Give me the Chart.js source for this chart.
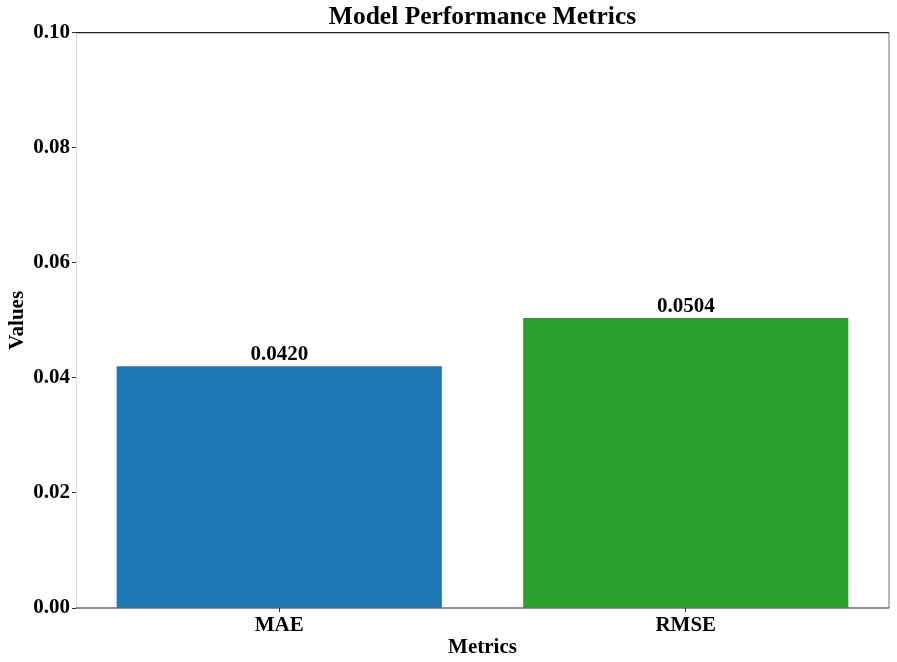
<!DOCTYPE html>
<html>
<head>
<meta charset="utf-8">
<script src="https://cdn.jsdelivr.net/npm/chart.js@4.4.1/dist/chart.umd.min.js"></script>
<style>
  html, body { margin: 0; padding: 0; background: #fff; }
  #wrap { width: 897px; height: 662px; position: relative; }
</style>
</head>
<body>
<div id="wrap"><canvas id="metricsChart"></canvas></div>
<script>
// Data
const metricLabels = ['MAE', 'RMSE'];
const metricValues = [0.0420, 0.0504];
const barColors = ['#1f77b4', '#2ca02c'];
const yTicks = [0, 0.02, 0.04, 0.06, 0.08, 0.10];

const serif = "'Liberation Serif', 'Times New Roman', serif";

// Frame around plot area + value labels on bars
const framePlugin = {
  id: 'frame',
  afterDatasetsDraw(chart) {
    const { ctx, chartArea: a } = chart;
    ctx.save();
    ctx.lineWidth = 1.2;
    ctx.strokeStyle = '#dddddd';
    ctx.beginPath(); ctx.moveTo(a.left + 0.5, a.top); ctx.lineTo(a.left + 0.5, a.bottom); ctx.stroke();
    ctx.strokeStyle = '#888888';
    ctx.beginPath(); ctx.moveTo(a.right, a.top); ctx.lineTo(a.right, a.bottom); ctx.stroke();
    ctx.strokeStyle = '#222222';
    ctx.beginPath(); ctx.moveTo(a.left, a.top); ctx.lineTo(a.right, a.top); ctx.stroke();
    ctx.beginPath(); ctx.moveTo(a.left, a.bottom); ctx.lineTo(a.right, a.bottom); ctx.stroke();

    // value labels
    const meta = chart.getDatasetMeta(0);
    ctx.fillStyle = '#000';
    ctx.font = 'bold 21px ' + serif;
    ctx.textAlign = 'center';
    ctx.textBaseline = 'bottom';
    meta.data.forEach((bar, i) => {
      ctx.fillText(metricValues[i].toFixed(4), bar.x, bar.y - 1);
    });
    ctx.restore();
  }
};

const ctx = document.getElementById('metricsChart').getContext('2d');
new Chart(ctx, {
  type: 'bar',
  data: {
    labels: metricLabels,
    datasets: [{
      data: metricValues,
      backgroundColor: barColors,
      barPercentage: 0.8,
      categoryPercentage: 1.0
    }]
  },
  options: {
    responsive: true,
    maintainAspectRatio: false,
    animation: false,
    layout: { padding: { top: 0, right: 8, bottom: 0, left: 0 } },
    plugins: {
      legend: { display: false },
      tooltip: { enabled: false },
      title: {
        display: true,
        fullSize: false,
        text: 'Model Performance Metrics',
        color: '#000',
        font: { family: serif, size: 25.5, weight: 'bold' },
        padding: { top: 2, bottom: 0 }
      }
    },
    scales: {
      x: {
        afterFit(axis) { axis.height = 54; },
        grid: { display: true, offset: false, drawOnChartArea: false, tickLength: 4, tickColor: '#333' },
        border: { display: false },
        ticks: { color: '#000', font: { family: serif, size: 21, weight: 'bold' }, padding: 1 },
        title: {
          display: true,
          text: 'Metrics',
          color: '#000',
          font: { family: serif, size: 21, weight: 'bold' },
          padding: { top: 0, bottom: 2 }
        }
      },
      y: {
        min: 0,
        max: 0.10,
        afterBuildTicks(axis) { axis.ticks = yTicks.map(v => ({ value: v })); },
        afterFit(axis) { axis.width = 76; },
        grid: { display: true, drawOnChartArea: false, tickLength: 4, tickColor: '#333' },
        border: { display: false },
        ticks: {
          color: '#000',
          font: { family: serif, size: 21, weight: 'bold' },
          padding: 2,
          callback: v => v.toFixed(2)
        },
        title: {
          display: true,
          text: 'Values',
          color: '#000',
          font: { family: serif, size: 21, weight: 'bold' },
          padding: { top: 5, bottom: 0 }
        }
      }
    }
  },
  plugins: [framePlugin]
});
</script>
</body>
</html>
